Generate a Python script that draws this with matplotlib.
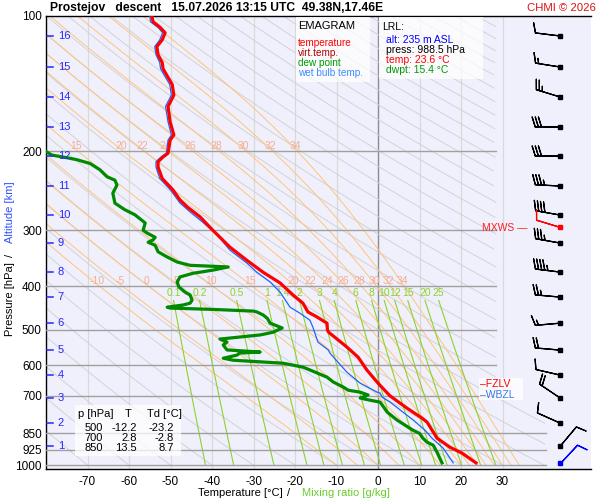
import numpy as np
import matplotlib
matplotlib.use("Agg")
from matplotlib import pyplot as plt
from matplotlib.patches import Rectangle

plt.rcParams["font.family"] = ["Liberation Sans", "DejaVu Sans"]

# sounding (hPa, degC)
temp_p = [988.5, 940, 912, 871, 850, 802, 786, 747, 709, 700, 657, 614, 575, 546,
          506, 500, 483, 468, 456, 436, 418, 393, 372, 350, 327, 300, 280, 266,
          257, 244, 230, 217, 211, 206, 202, 189, 184, 172, 159, 150, 142, 137,
          131, 127, 122, 117, 113, 109, 106, 103, 100]
temp_t = [23.6, 20.2, 17.3, 14.2, 13.5, 11.8, 10.6, 7.0, 3.6, 2.8, 0.0, -2.7, -4.8, -7.5,
          -11.9, -12.2, -12.3, -14.7, -16.9, -18.1, -20.5, -23.6, -27.7, -31.6, -35.7,
          -39.8, -42.9, -46.0, -47.7, -49.4, -52.0, -53.0, -53.0, -51.8, -50.6, -50.1,
          -49.2, -50.1, -50.6, -49.2, -49.6, -50.6, -51.8, -52.0, -53.0, -53.3, -52.0,
          -51.3, -52.5, -54.2, -54.5]

wet_p = [988.5, 917, 871, 836, 794, 762, 724, 706, 691, 688, 657, 621, 563, 554, 532,
         493, 476, 459, 445, 412, 391, 372, 355, 332, 307, 288, 273, 261, 244, 230,
         217, 211, 206, 202, 189, 184, 172, 159, 150, 142, 137, 131, 127, 122, 117,
         113, 109, 106, 103, 100]
wet_t = [18.1, 15.7, 13.0, 11.3, 8.5, 6.0, 2.9, 1.0, 0.5, -0.2, -4.3, -7.5, -11.6, -12.0,
         -14.5, -15.7, -16.4, -18.8, -21.2, -23.6, -26.0, -29.2, -31.6, -35.7, -38.8,
         -42.2, -45.3, -47.7, -50.0, -52.6, -53.5, -53.5, -52.3, -51.0, -50.6, -49.8,
         -50.6, -51.2, -49.8, -50.2, -51.2, -52.4, -52.6, -53.5, -53.8, -52.6, -51.9,
         -53.0, -54.8, -55.0]

dew_p = [988.5, 936, 903, 889, 871, 850, 836, 794, 762, 724, 717, 709, 698, 688, 681,
         670, 653, 637, 614, 605, 593, 584, 578, 569, 563, 560, 554, 540, 532, 524,
         513, 506, 495, 490, 483, 471, 463, 456, 454, 450, 447, 445, 440, 436, 429,
         418, 412, 401, 391, 381, 374, 368, 362, 359, 353, 344, 335, 324, 319, 315,
         311, 304, 300, 289, 285, 277, 270, 261, 248, 238, 232, 228, 220, 213, 209,
         207, 204, 199]
dew_t = [15.4, 14.2, 13.3, 11.8, 10.8, 10.0, 8.4, 4.6, 2.2, 0.5, -1.9, -4.3, -2.4, -4.3,
         -7.2, -8.4, -10.8, -12.3, -16.4, -18.1, -22.9, -34.9, -37.3, -34.0, -33.3,
         -28.4, -36.4, -37.3, -36.4, -38.1, -28.4, -25.3, -23.1, -24.3, -26.0, -26.7,
         -27.7, -29.2, -30.0, -40.0, -50.1, -50.8, -47.0, -45.3, -44.8, -45.3, -46.5,
         -48.0, -48.4, -47.7, -44.6, -39.8, -36.1, -45.3, -48.4, -50.8, -53.0, -53.7,
         -55.4, -54.2, -53.7, -55.7, -56.6, -56.1, -56.9, -58.6, -61.0, -63.4, -63.9,
         -62.9, -63.4, -65.3, -67.0, -69.4, -72.5, -74.7, -78.6, -80.5]

# altitude marks (km) and their pressure
alt_km = [16, 15, 14, 13, 12, 11, 10, 9, 8, 7, 6, 5, 4, 3, 2, 1]
alt_p = [110.8, 129.9, 151.5, 176.7, 205.0, 239.1, 277.5, 320.3, 371.7, 422.5,
         482.9, 554.5, 630.4, 709.2, 806.3, 907.1]

# winds at the altitude marks (direction from, speed kt)
wind_dir = [277, 279, 287, 270, 270, 273, 280, 280, 277, 275, 265, 275, 283, 304, 294, 40]
wind_spd = [10, 15, 25, 30, 30, 35, 40, 35, 45, 25, 15, 20, 10, 20, 10, 10]
sfc_p, sfc_dir, sfc_spd = 988.5, 43, 10
mxws_p, mxws_dir, mxws_spd = 295, 287, 10

# reference lines of the diagram
dry_theta = np.arange(-80, 361, 10)
moist_tw = [-10, -5, 0, 5, 10, 15, 20, 22, 24, 26, 28, 30, 32, 34]
moist_lab_200 = [15, 20, 22, 24, 26, 28, 30, 32, 34]
mix_w = [0.1, 0.2, 0.5, 1, 1.4, 2, 3, 4, 6, 8, 10, 12, 15, 20, 25]
mix_lab = ["0.1", "0.2", "0.5", "1", "1.4", "2", "3", "4", "6", "8", "10", "12", "15", "20", "25"]

isobars = [200, 300, 400, 500, 600, 700, 850, 925, 1000]
isotherms = [-70, -60, -50, -40, -30, -20, -10, 0, 10, 20, 30]

# table
tab_p = ["500", "700", "850"]
tab_t = ["-12.2", "2.8", "13.5"]
tab_td = ["-23.2", "-2.8", "8.7"]

RD, CP, LV, EPS = 287.04, 1005.7, 2.501e6, 0.622


def es(tc):
    return 6.112 * np.exp(17.67 * tc / (tc + 243.5))


def lapse(tk, pp):
    e = es(tk - 273.15)
    rs = EPS * e / (pp - e)
    return (RD * tk + LV * rs) / (CP + LV ** 2 * rs * EPS / (RD * tk ** 2))


def moist_adiabat(tw, p):
    lnp = np.log(p)
    t = tw + 273.15
    out = [t]
    for i in range(1, len(p)):
        h = lnp[i] - lnp[i - 1]
        pm = np.exp(lnp[i - 1] + h / 2)
        k1 = lapse(t, p[i - 1])
        k2 = lapse(t + h * k1 / 2, pm)
        k3 = lapse(t + h * k2 / 2, pm)
        k4 = lapse(t + h * k3, p[i])
        t = t + h * (k1 + 2 * k2 + 2 * k3 + k4) / 6
        out.append(t)
    return np.array(out) - 273.15


def px(x, y):
    return x / 600, 1 - y / 500


fig = plt.figure(figsize=(6, 5), dpi=100)
ax = fig.add_axes([46 / 600, 1 - 469 / 500, 545 / 600, 453 / 500])
ax.set_facecolor("#f0f0fc")
ax.set_yscale("log")
ax.set_ylim(1020, 100)
ax.set_xlim(-80, 51.3)

pp = np.exp(np.linspace(np.log(1000), np.log(100), 300))

for t in isotherms:
    ax.axvline(t, color="#8c8c8c" if t == 0 else "#d9d9d9", lw=1.0 if t == 0 else 0.9, zorder=1)

# dry adiabats
lim = np.interp(pp, [650, 800], [28.4, 40.5])
for th in dry_theta:
    tt = (th + 273.15) * (pp / 1000) ** 0.2857 - 273.15
    tt = np.where(tt > lim, np.nan, tt)
    ax.plot(tt, pp, color="#d2d2d6", lw=0.7, zorder=2)

# moist adiabats
for tw in moist_tw:
    tt = moist_adiabat(tw, pp)
    ax.plot(tt, pp, color="#ffc47a", lw=0.7, zorder=2)
    for plev in (200, 400):
        if plev == 200 and tw not in moist_lab_200:
            continue
        tl = np.interp(np.log(plev), np.log(pp[::-1]), tt[::-1])
        if tl < -78:
            continue
        ax.annotate(str(tw), (tl - 0.6, plev), xytext=(0, 0.3), textcoords="offset points",
                    ha="center", va="bottom", fontsize=7.5, color="#f7ab92", zorder=3)

# mixing ratio lines
pm = np.exp(np.linspace(np.log(1000), np.log(430), 60))
for w, lab in zip(mix_w, mix_lab):
    e = w * pm / (622 + w)
    a = np.log(e / 6.112)
    td = 243.5 * a / (17.67 - a)
    ax.plot(td, pm, color="#8cd22a", lw=0.8, zorder=2)
    ax.text(td[-1], 414, lab, ha="center", va="center", fontsize=7.5, color="#8cd22a", zorder=3)

# isobars
for p in isobars:
    right = 40.5 if p >= 850 else 28.4
    ax.plot([-80, right], [p, p], color="#a0a0a0", lw=1.0, zorder=3)

# profiles
ax.plot(temp_t, temp_p, color="#ff0000", lw=2.3, zorder=6)
ax.plot(wet_t, wet_p, color="#1e64ff", lw=0.9, zorder=5)
ax.plot(dew_t, dew_p, color="#008a00", lw=2.3, zorder=6)

# altitude marks
for km, p in zip(alt_km, alt_p):
    ax.plot([-79.8, -78.3], [p, p], color="#2828ff", lw=1.1, zorder=7)
    ax.text(-77.2, p, str(km), ha="left", va="center", fontsize=8, color="#2828ff", zorder=7)

# wind barbs
xb = 43.9


def uv(d, s):
    r = np.radians(np.asarray(d, float))
    return -np.asarray(s) * np.sin(r), -np.asarray(s) * np.cos(r)


u, v = uv(wind_dir, wind_spd)
ax.barbs([xb] * len(alt_p), alt_p, u, v, length=6, lw=0.9, color="k", zorder=8)
ax.plot([xb] * len(alt_p), alt_p, "s", ms=2.5, color="k", zorder=9)
u, v = uv([mxws_dir], [mxws_spd])
ax.barbs([xb], [mxws_p], u, v, length=6, lw=0.9, color="#ff0000", zorder=8)
ax.plot([xb], [mxws_p], "s", ms=2.5, color="#ff0000", zorder=9)
u, v = uv([sfc_dir], [sfc_spd])
ax.barbs([xb], [sfc_p], u, v, length=6, lw=0.9, color="#0000ff", zorder=8)
ax.plot([xb], [sfc_p], "s", ms=2.5, color="#0000ff", zorder=9)

# axes
ax.set_yticks(isobars + [100])
ax.set_yticklabels([str(p) for p in isobars] + ["100"])
ax.yaxis.set_minor_locator(matplotlib.ticker.NullLocator())
ax.set_xticks(isotherms)
ax.set_xticklabels([str(t) for t in isotherms])
ax.tick_params(axis="both", length=0, labelsize=8.5, pad=3)
ax.tick_params(axis="x", pad=5)
ax.spines["right"].set_visible(False)
for s in ("left", "top", "bottom"):
    ax.spines[s].set_linewidth(1.0)

# text boxes
fig.add_artist(Rectangle(px(296, 82), 74 / 600, 65 / 500, transform=fig.transFigure,
                         facecolor="white", alpha=0.75, edgecolor="none", zorder=10))
fig.text(*px(298, 26), "EMAGRAM", fontsize=8, va="center", zorder=11)
leg = [("temperature", "#ff0000"), ("virt.temp.", "#b00000"),
       ("dew point", "#009a00"), ("wet bulb temp.", "#3c8cff")]
for i, (s, c) in enumerate(leg):
    fig.text(*px(298, 43 + 10 * i), s, fontsize=7.2, color=c, va="center", zorder=11)

fig.add_artist(Rectangle(px(379, 79), 104 / 600, 62 / 500, transform=fig.transFigure,
                         facecolor="white", alpha=0.75, edgecolor="none", zorder=10))
fig.text(*px(382, 27), "LRL:", fontsize=7.5, va="center", zorder=11)
lrl = [("alt: 235 m ASL", "#0000ff"), ("press: 988.5 hPa", "black"),
       ("temp: 23.6 \u00b0C", "#ff0000"), ("dwpt: 15.4 \u00b0C", "#009a00")]
for i, (s, c) in enumerate(lrl):
    fig.text(*px(386, 40 + 10 * i), s, fontsize=7.5, color=c, va="center", zorder=11)

fig.add_artist(Rectangle(px(75, 456), 106 / 600, 51 / 500, transform=fig.transFigure,
                         facecolor="white", alpha=0.75, edgecolor="none", zorder=10))
fig.text(*px(78, 414), "p [hPa]", fontsize=8, va="center", zorder=11)
fig.text(*px(128, 414), "T", fontsize=8, va="center", ha="center", zorder=11)
fig.text(*px(147, 414), "Td [\u00b0C]", fontsize=8, va="center", zorder=11)
for i in range(3):
    y = 428 + 10 * i
    fig.text(*px(103, y), tab_p[i], fontsize=8, va="center", ha="right", zorder=11)
    fig.text(*px(137, y), tab_t[i], fontsize=8, va="center", ha="right", zorder=11)
    fig.text(*px(174, y), tab_td[i], fontsize=8, va="center", ha="right", zorder=11)

fig.add_artist(Rectangle(px(479, 400), 44 / 600, 22 / 500, transform=fig.transFigure,
                         facecolor="white", alpha=0.75, edgecolor="none", zorder=10))
fig.text(*px(480, 384), "\u2013FZLV", fontsize=7.5, color="#ff0000", va="center", zorder=11)
fig.text(*px(480, 395), "\u2013WBZL", fontsize=7.5, color="#3c78e6", va="center", zorder=11)
fig.text(*px(528, 228), "MXWS \u2014", fontsize=7.5, color="#ff2020", va="center", ha="right", zorder=11)

# titles and labels
fig.text(*px(50, 8), "Prostejov   descent   15.07.2026 13:15 UTC  49.38N,17.46E",
         fontsize=8.7, fontweight="bold", va="center")
fig.text(*px(596, 8), "CHMI \u00a9 2026", fontsize=8.2, color="#e01010", va="center", ha="right")
fig.text(*px(283, 493), "Temperature [\u00b0C]", fontsize=8, va="center", ha="right")
fig.text(*px(289, 493), "/", fontsize=8, va="center", ha="center")
fig.text(*px(302, 493), "Mixing ratio [g/kg]", fontsize=8, va="center", ha="left", color="#6ccc2c")
fig.text(*px(10, 212), "Altitude [km]", fontsize=8, va="center", ha="center", rotation=90, color="#3050ff")
fig.text(*px(10, 255), "/", fontsize=8, va="center", ha="center", rotation=90)
fig.text(*px(10, 299), "Pressure [hPa]", fontsize=8, va="center", ha="center", rotation=90)

fig.savefig("out.png", dpi=100)
